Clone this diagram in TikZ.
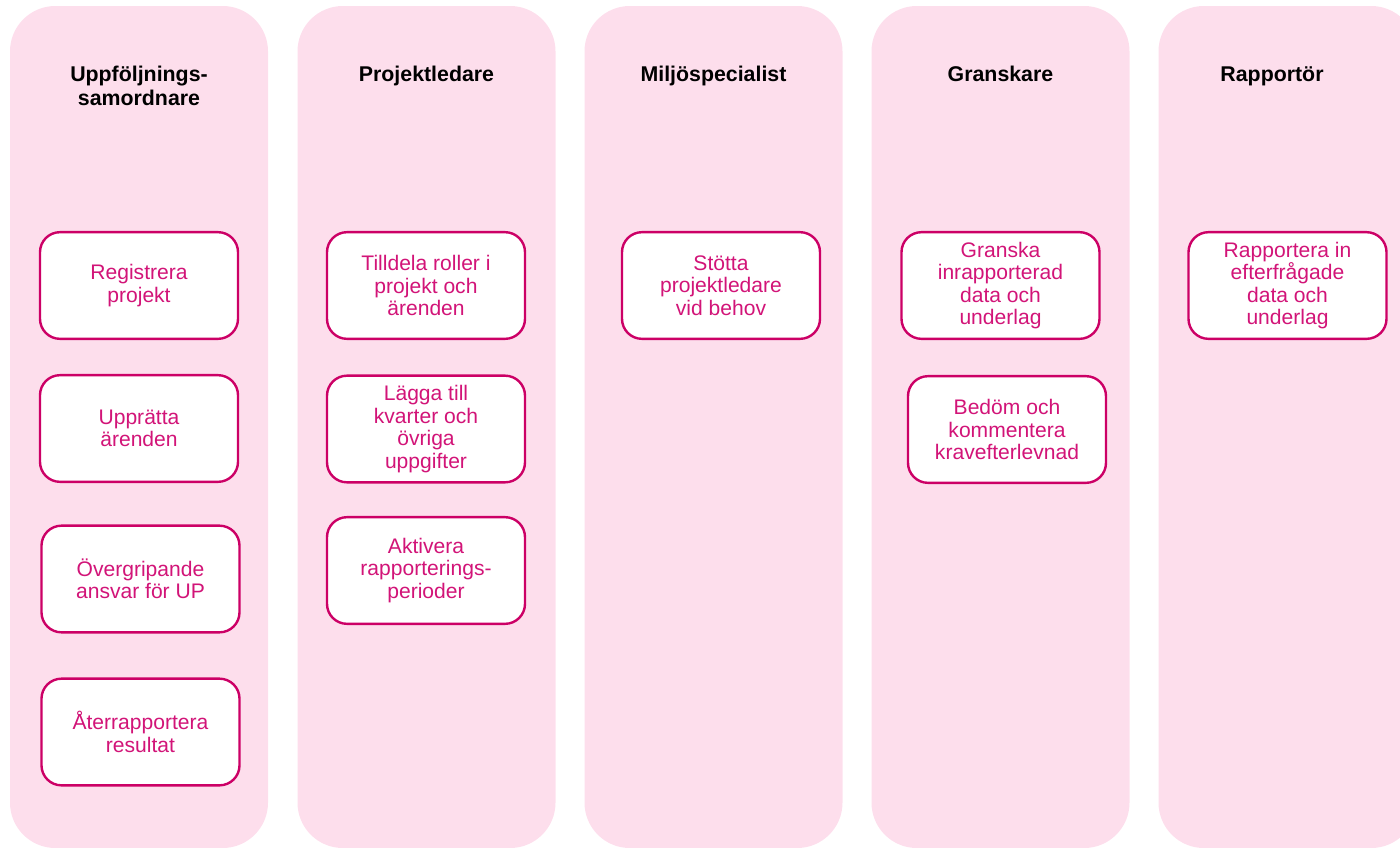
\documentclass[tikz,border=0pt]{standalone}
\usepackage{fontspec}
\setmainfont{Liberation Sans}

\begin{document}
\begin{tikzpicture}[
  x=0.75pt, y=-0.75pt,
  lane/.style={
    fill=cLane, rounded corners=34pt, minimum width=193.5pt,
    minimum height=631.5pt, inner sep=0pt, outer sep=0pt
  },
  role/.style={
    align=center, font=\fontsize{16}{17.5}\selectfont\bfseries
  },
  task/.style={
    draw=cBorder, line width=1.8pt, fill=white, rounded corners=15pt,
    minimum width=148.5pt, minimum height=80pt, inner sep=2pt,
    align=center, text=cText, font=\fontsize{15.8}{16.9}\selectfont
  }
]

  % Colors based on the image
  \definecolor{cLane}{RGB}{253,222,236}   % light pink
  \definecolor{cBorder}{RGB}{204,0,102}   % magenta
  \definecolor{cText}{RGB}{210,20,120}    % magenta text

  \clip (0,0) rectangle (1400,847);

  % --- LANES ---
  \node[lane] (lane1) at (139,427) {};
  \node[lane] (lane2) at (426.5,427) {};
  \node[lane] (lane3) at (713.5,427) {};
  \node[lane] (lane4) at (1000.5,427) {};
  \node[lane] (lane5) at (1287.5,427) {};

  % --- ROLES ---
  \node[role] (role1) at (139,86) {Uppföljnings-\\samordnare};
  \node[role, anchor=base] (role2) at (426.5,81) {Projektledare};
  \node[role, anchor=base] (role3) at (713.5,81) {Miljöspecialist};
  \node[role, anchor=base] (role4) at (1000.5,81) {Granskare};
  \node[role, anchor=base] (role5) at (1272,81) {Rapportör};

  % --- TASKS ---
  % Uppföljningssamordnare
  \node[task] (reg) at (139,285.5) {Registrera\\projekt};
  \node[task] (upp) at (139,428.5) {Upprätta\\ärenden};
  \node[task] (ovg) at (140.5,579) {Övergripande\\ansvar för UP};
  \node[task] (ater) at (140.5,732) {Återrapportera\\resultat};

  % Projektledare
  \node[task] (till) at (426,285.5) {Tilldela roller i\\projekt och\\ärenden};
  \node[task] (lagg) at (426,429) {Lägga till\\kvarter och\\övriga\\uppgifter};
  \node[task] (akt) at (426,570.5) {Aktivera\\rapporterings-\\perioder};

  % Miljöspecialist
  \node[task] (stod) at (721,285.5) {Stötta\\projektledare\\vid behov};

  % Granskare
  \node[task] (gran) at (1000.5,285.5) {Granska\\inrapporterad\\data och\\underlag};
  \node[task] (bed) at (1007,429.5) {Bedöm och\\kommentera\\kravefterlevnad};

  % Rapportör
  \node[task] (rapp) at (1287.5,285.5) {Rapportera in\\efterfrågade\\data och\\underlag};

\end{tikzpicture}
\end{document}
